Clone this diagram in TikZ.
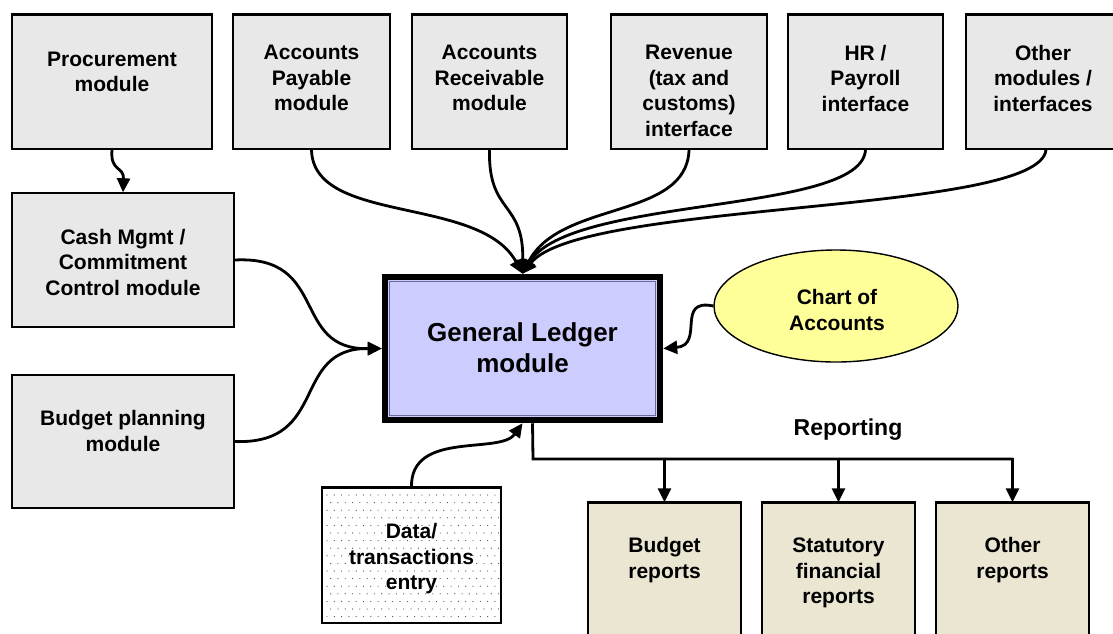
\documentclass[tikz,border=0pt]{standalone}
\usepackage{fontspec}
\setmainfont{Liberation Sans}
\usetikzlibrary{arrows.meta,shapes.geometric}
\definecolor{boxgray}{HTML}{E8E8E8}
\definecolor{glfill}{HTML}{CCCCFF}
\definecolor{glline}{HTML}{6A6A9A}
\definecolor{coafill}{HTML}{FFFF99}
\definecolor{repfill}{HTML}{EAE6D2}
\begin{document}
\begin{tikzpicture}[x=1pt,y=-1pt,
  box/.style={draw, line width=1.4pt, fill=boxgray, inner sep=0pt},
  repbox/.style={box, fill=repfill},
  topedge/.style={line width=3pt},
  txt/.style={font=\bfseries\fontsize{21}{25.5}\selectfont, align=center, inner sep=0pt},
  conn/.style={line width=2.8pt},
  arr/.style={conn, -{Triangle[length=14pt,width=13pt]}},
]
\clip (0,0) rectangle (1113,633);
\fill[white] (0,0) rectangle (1113,633);

% top row
\node[box, minimum width=200pt, minimum height=134pt] (proc) at (112,82) {};
\node[box, minimum width=157pt, minimum height=134pt] (ap) at (311.5,82) {};
\node[box, minimum width=155pt, minimum height=134pt] (ar) at (489.5,82) {};
\node[box, minimum width=156pt, minimum height=134pt] (rev) at (689,82) {};
\node[box, minimum width=155pt, minimum height=134pt] (hr) at (865.5,82) {};
\node[box, minimum width=160pt, minimum height=134pt] (oth) at (1046,82) {};
\foreach \n in {proc,ap,ar,rev,hr,oth}{\draw[topedge] (\n.north west) -- (\n.north east);}

\node[txt] (procT) at (112,72) {Procurement\\module};
\node[txt] (apT) at (311.5,78) {Accounts\\Payable\\module};
\node[txt] (arT) at (489.5,78) {Accounts\\Receivable\\module};
\node[txt] (revT) at (689,91) {Revenue\\(tax and\\customs)\\interface};
\node[txt] (hrT) at (865.5,78) {HR /\\Payroll\\interface};
\node[txt] (othT) at (1043,78) {Other\\modules /\\interfaces};

% left column
\node[box, minimum width=222pt, minimum height=134pt] (cash) at (123,260) {};
\node[box, minimum width=222pt, minimum height=133pt] (bud) at (123,441.5) {};
\node[txt] (cashT) at (123,262) {Cash Mgmt /\\Commitment\\Control module};
\node[txt] (budT) at (123,431) {Budget planning\\module};

% general ledger
\node[draw, line width=6.5pt, fill=glfill, minimum width=275pt, minimum height=143pt, inner sep=0pt] (gl) at (522.5,348.5) {};
\draw[glline, line width=1.2pt] ([shift={(7.5,7.5)}]gl.north west) rectangle ([shift={(-7.5,-7.5)}]gl.south east);
\node[font=\bfseries\fontsize{26}{31}\selectfont, align=center, inner sep=0pt] (glT) at (522.5,348) {General Ledger\\module};

% chart of accounts
\node[ellipse, draw, line width=1.4pt, fill=coafill, minimum width=244pt, minimum height=112pt, inner sep=0pt] (coa) at (836,306) {};
\node[txt] (coaT) at (837,310) {Chart of\\Accounts};

% data entry
\node[draw, line width=1.4pt, fill=white, minimum width=179pt, minimum height=135pt, inner sep=0pt] (data) at (411.5,555.5) {};
\begin{scope}
  \clip (324,490) rectangle (499,621);
  \foreach \r in {0,...,17}{
    \foreach \c in {0,...,25}{
      \fill[black!70] ({327+\c*7.3+mod(\r,2)*3.65},{495+\r*7.6}) circle (0.6pt);
    }
  }
\end{scope}
\draw[line width=1.4pt] (data.north west) rectangle (data.south east);
\draw[topedge] (data.north west) -- (data.north east);
\node[txt] (dataT) at (411.5,559) {Data/\\transactions\\entry};

% reports
\node[repbox, minimum width=153pt, minimum height=147pt] (br) at (664.5,576.5) {};
\node[repbox, minimum width=153pt, minimum height=147pt] (sr) at (838.5,576.5) {};
\node[repbox, minimum width=153pt, minimum height=147pt] (orp) at (1012.5,576.5) {};
\foreach \n in {br,sr,orp}{\draw[topedge] (\n.north west) -- (\n.north east);}
\node[txt] (brT) at (664.5,560) {Budget\\reports};
\node[txt] (srT) at (838.5,573) {Statutory\\financial\\reports};
\node[txt] (orT) at (1012.5,560) {Other\\reports};
\node[font=\bfseries\fontsize{23}{27}\selectfont, inner sep=0pt] (repL) at (848,430) {Reporting};

% connectors
\draw[arr] (proc.south) .. controls (110,172) and (124,166) .. (cash.north);
\draw[arr] (ap.south) .. controls (313,225) and (480,195) .. (gl.north);
\draw[arr] (ar.south) .. controls (488,215) and (524,200) .. (gl.north);
\draw[arr] (rev.south) .. controls (687,220) and (560,200) .. (gl.north);
\draw[arr] (hr.south) .. controls (862,215) and (570,195) .. (gl.north);
\draw[arr] (oth.south) .. controls (1040,215) and (580,200) .. (gl.north);
\draw[arr] (cash.east) .. controls (330,255) and (290,350) .. (gl.west);
\draw[arr] (bud.east) .. controls (330,445) and (290,348) .. (gl.west);
\draw[arr] (coa.west) .. controls (675,298) and (705,345) .. (gl.east);
\draw[arr] (data.north) .. controls (410,430) and (500,455) .. (gl.south);

\coordinate (bus) at (533,459);
\draw[conn] ([xshift=10pt]gl.south) -- (bus) -- (bus -| orp.north);
\draw[arr] (bus -| br.north) -- (br.north);
\draw[arr] (bus -| sr.north) -- (sr.north);
\draw[arr] ([yshift=1.4pt]bus -| orp.north) -- (orp.north);
\end{tikzpicture}
\end{document}
